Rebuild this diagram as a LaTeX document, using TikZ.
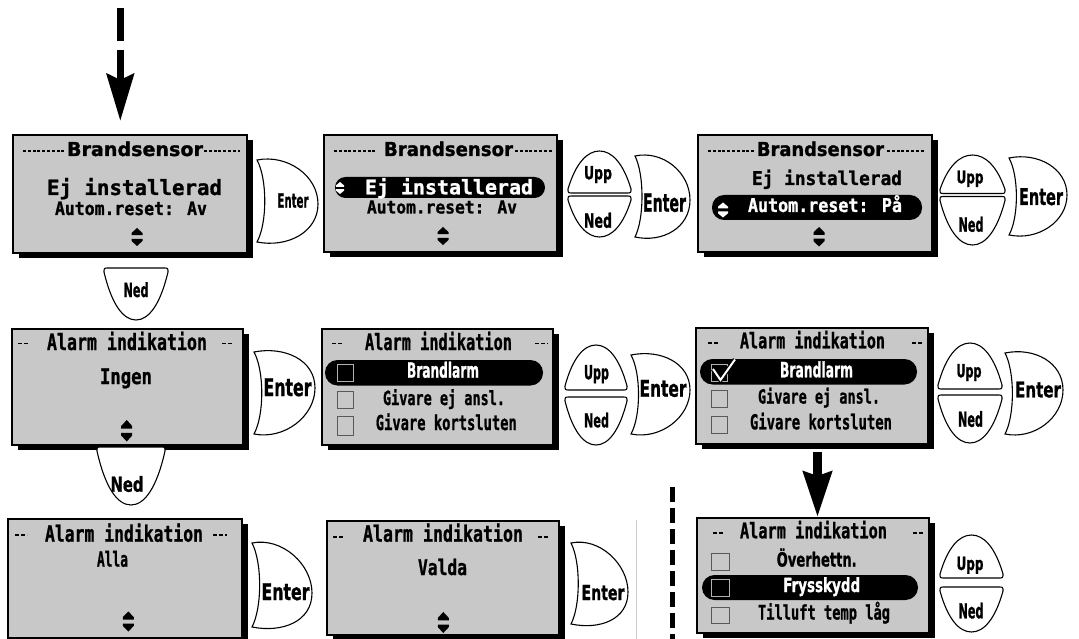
\documentclass[tikz,border=0pt]{standalone}
\usepackage{fontspec}
\usepackage{graphicx}
\usetikzlibrary{arrows.meta,shadows}
\newfontfamily\monof[BoldFeatures={FakeBold=1.2}]{DejaVu Sans Mono}
\newfontfamily\sansf[BoldFeatures={FakeBold=1.2}]{DejaVu Sans}
\definecolor{lcd}{RGB}{200,200,200}
\tikzset{
 screen/.style={draw=black, line width=1.3pt, fill=lcd, inner sep=0pt,
   drop shadow={shadow xshift=6pt, shadow yshift=-5pt, opacity=1, fill=black}},
 btn/.style={draw=black, line width=1.1pt, fill=white},
 txt/.style={inner sep=0pt, outer sep=0pt, anchor=base},
 tdash/.style={line width=1.2pt, dash pattern=on 3pt off 1.8pt},
 sdash/.style={line width=1.6pt, dash pattern=on 4pt off 2pt},
 pill/.style={fill=black, rounded corners=#1},
 cbox/.style={draw=black!65, line width=0.8pt},
 cboxsel/.style={draw=black!30, line width=0.8pt, fill=black},
}
\newcommand\lcdt[7][black]{\node[txt,text=#1] (#2) at (#3,#4) {\resizebox{#5pt}{\height}{\fontsize{#6pt}{#6pt}\selectfont #7}};}
\newcommand\updn[5]{%
 \fill[#5] (#1,#2) -- ({#1+#4},{#2+0.28*(#3-#2)}) -- ({#1+#4},{#2+0.4*(#3-#2)}) -- ({#1-#4},{#2+0.4*(#3-#2)}) -- ({#1-#4},{#2+0.28*(#3-#2)}) -- cycle;
 \fill[#5] (#1,#3) -- ({#1+#4},{#3-0.28*(#3-#2)}) -- ({#1+#4},{#3-0.4*(#3-#2)}) -- ({#1-#4},{#3-0.4*(#3-#2)}) -- ({#1-#4},{#3-0.28*(#3-#2)}) -- cycle;}
\newcommand\enterbtn[5]{%
 \draw[btn] (#1,{#2+3}) .. controls ({#1+0.5*(#3-#1)},{#2-3}) and (#3,{#5-0.32*(#4-#2)}) .. (#3,#5)
  .. controls (#3,{#5+0.32*(#4-#2)}) and ({#1+0.5*(#3-#1)},{#4+3}) .. (#1,{#4-3})
  .. controls ({#1+0.17*(#3-#1)},{#4-0.25*(#4-#2)}) and ({#1+0.17*(#3-#1)},{#2+0.25*(#4-#2)}) .. (#1,{#2+3}) -- cycle;}
\newcommand\uppbtn[4]{%
 \draw[btn] (#1,{#4-4}) .. controls ({#1+0.12*(#3-#1)},{#2+0.3*(#4-#2)}) and ({#1+0.3*(#3-#1)},#2) .. ({(#1+#3)/2},#2)
  .. controls ({#3-0.3*(#3-#1)},#2) and ({#3-0.12*(#3-#1)},{#2+0.3*(#4-#2)}) .. (#3,{#4-4})
  .. controls (#3,#4) .. ({#3-5},#4) -- ({#1+5},#4) .. controls (#1,#4) .. (#1,{#4-4}) -- cycle;}
\newcommand\nedbtn[4]{%
 \draw[btn] (#1,{#2+4}) .. controls ({#1+0.12*(#3-#1)},{#4-0.3*(#4-#2)}) and ({#1+0.3*(#3-#1)},#4) .. ({(#1+#3)/2},#4)
  .. controls ({#3-0.3*(#3-#1)},#4) and ({#3-0.12*(#3-#1)},{#4-0.3*(#4-#2)}) .. (#3,{#2+4})
  .. controls (#3,#2) .. ({#3-5},#2) -- ({#1+5},#2) .. controls (#1,#2) .. (#1,{#2+4}) -- cycle;}
\begin{document}
\begin{tikzpicture}[x=1pt,y=-1pt]
\useasboundingbox (0,0) rectangle (1079,639);
% screens
\node[screen, minimum width=234pt, minimum height=118pt] (s11) at (130,194) {};
\node[screen, minimum width=233pt, minimum height=117pt] (s12) at (440.5,193.5) {};
\node[screen, minimum width=234pt, minimum height=117pt] (s13) at (815,193.5) {};
\node[screen, minimum width=231pt, minimum height=116pt] (s21) at (127.5,387) {};
\node[screen, minimum width=231pt, minimum height=116pt] (s22) at (437.5,387) {};
\node[screen, minimum width=232pt, minimum height=116pt] (s23) at (812,386) {};
\node[screen, minimum width=234pt, minimum height=119pt] (s31) at (125,578.5) {};
\node[screen, minimum width=232pt, minimum height=114pt] (s32) at (443,578) {};
\node[screen, minimum width=232pt, minimum height=115pt] (s33) at (813,575.5) {};
% row 1 col 1
\draw[tdash] (23,151) -- (65,151); \draw[tdash] (204,151) -- (240,151);
\lcdt{t11a}{135}{156}{136}{19.2}{\sansf\bfseries Brandsensor}
\lcdt{t11b}{134.5}{195}{175}{21}{\monof\bfseries Ej installerad}
\lcdt{t11c}{131}{215}{152}{18.5}{\monof\bfseries Autom.reset: Av}
\updn{137}{228}{246}{5.5}{black}
% row 1 col 2
\draw[tdash] (334,151) -- (377,151); \draw[tdash] (515,151) -- (553,151);
\lcdt{t12a}{448.5}{156}{129}{19.2}{\sansf\bfseries Brandsensor}
\fill[pill=10.5pt] (335,177) rectangle (545,198);
\updn{340}{182}{194}{4}{white}
\lcdt[white]{t12b}{449}{194.3}{168}{20}{\monof\bfseries Ej installerad}
\lcdt{t12c}{442}{213.5}{150}{18}{\monof\bfseries Autom.reset: Av}
\updn{443}{227}{245}{5.5}{black}
% row 1 col 3
\draw[tdash] (708,151) -- (754,151); \draw[tdash] (887,151) -- (925,151);
\lcdt{t13a}{820.5}{156}{127}{19.2}{\sansf\bfseries Brandsensor}
\lcdt{t13b}{827}{185}{150}{19}{\monof\bfseries Ej installerad}
\fill[pill=12pt] (712,195) rectangle (922,220);
\updn{723}{202.5}{217.5}{5}{white}
\lcdt[white]{t13c}{825}{212}{154}{19}{\monof\bfseries Autom.reset: På}
\updn{819}{227}{246.5}{5.5}{black}
% row 2 col 1
\draw[sdash] (18,343.5) -- (28,343.5); \draw[sdash] (222,343.5) -- (233,343.5);
\lcdt{t21a}{127}{350}{160}{22.5}{\monof\bfseries Alarm indikation}
\lcdt{t21b}{126}{384}{52}{21.5}{\monof\bfseries Ingen}
\updn{126.7}{420}{441.5}{5.5}{black}
% row 2 col 2
\draw[sdash] (332,343.5) -- (343,343.5); \draw[sdash] (535,343.5) -- (548,343.5);
\lcdt{t22a}{438.5}{350}{147}{22.5}{\monof\bfseries Alarm indikation}
\fill[pill=12.5pt] (325,360) rectangle (543,385.5);
\draw[cboxsel] (337,364) rectangle (353,381);
\lcdt[white]{t22b}{443}{377.7}{72}{21}{\sansf\bfseries Brandlarm}
\draw[cbox] (337,391.7) rectangle (353,408.3);
\lcdt{t22c}{444}{405}{122}{19.5}{\monof\bfseries Givare ej ansl.}
\draw[cbox] (337,416.7) rectangle (353,435);
\lcdt{t22d}{446.3}{430}{141}{20.5}{\monof\bfseries Givare kortsluten}
% row 2 col 3
\draw[sdash] (708,343) -- (718,343); \draw[sdash] (912,343) -- (922,343);
\lcdt{t23a}{812.5}{348.3}{145}{21.5}{\monof\bfseries Alarm indikation}
\fill[pill=12.5pt] (700,359) rectangle (917,384.5);
\draw[cboxsel] (711,364) rectangle (727,381);
\draw[black, line width=4.5pt] (713,369) -- (720.5,380) -- (735,359.5);
\draw[white, line width=2pt] (713,369) -- (720.5,380) -- (735,359.5);
\lcdt[white]{t23b}{816.5}{377.3}{73}{21}{\sansf\bfseries Brandlarm}
\draw[cbox] (711,390) rectangle (727,407);
\lcdt{t23c}{819}{403.5}{122}{19.5}{\monof\bfseries Givare ej ansl.}
\draw[cbox] (711,416.5) rectangle (727,433);
\lcdt{t23d}{821}{429.3}{142}{20.5}{\monof\bfseries Givare kortsluten}
% row 3 col 1
\draw[sdash] (15,535) -- (27,535); \draw[sdash] (213,535) -- (227,535);
\lcdt{t31a}{124}{541.7}{158}{22.5}{\monof\bfseries Alarm indikation}
\lcdt{t31b}{112.5}{566.7}{31}{21}{\monof\bfseries Alla}
\updn{128.3}{611.5}{631.5}{5.5}{black}
% row 3 col 2
\draw[sdash] (333,537) -- (343,537); \draw[sdash] (538,537) -- (549,537);
\lcdt{t32a}{443}{541.7}{160}{22.5}{\monof\bfseries Alarm indikation}
\lcdt{t32b}{442.5}{575}{49}{21.5}{\monof\bfseries Valda}
\updn{443.3}{612}{633}{5.5}{black}
% row 3 col 3
\draw[sdash] (713,533) -- (723,533); \draw[sdash] (913,533) -- (923,533);
\lcdt{t33a}{813.5}{538.3}{147}{21.5}{\monof\bfseries Alarm indikation}
\draw[cbox] (711,553) rectangle (729,570);
\lcdt{t33b}{816.7}{566.5}{80}{19.5}{\sansf\bfseries Överhettn.}
\fill[pill=12.5pt] (702,575) rectangle (918,600);
\draw[cboxsel] (711,579) rectangle (729,596);
\lcdt[white]{t33c}{821.7}{592}{77}{19.5}{\sansf\bfseries Frysskydd}
\draw[cbox] (711,607) rectangle (729,623);
\lcdt{t33d}{824}{619.5}{132}{20}{\monof\bfseries Tilluft temp låg}
% buttons row 1
\enterbtn{257}{157}{318}{245}{204}
\lcdt{e11}{293}{207.7}{31}{19.8}{\sansf\bfseries Enter}
\uppbtn{568}{151}{631}{193}
\lcdt{u12}{598}{179.3}{28}{18.2}{\sansf\bfseries Upp}
\nedbtn{568}{196}{631}{237}
\lcdt{n12}{598}{227.7}{28}{19.8}{\sansf\bfseries Ned}
\enterbtn{635}{153}{690}{240}{200}
\lcdt{e12}{664.5}{211.7}{43}{25}{\sansf\bfseries Enter}
\uppbtn{940}{155}{1005}{193.5}
\lcdt{u13}{970}{183.3}{27}{17.5}{\sansf\bfseries Upp}
\nedbtn{940}{196.5}{1005}{245}
\lcdt{n13}{971}{231.7}{25}{19.8}{\sansf\bfseries Ned}
\enterbtn{1009}{155}{1067}{238}{195}
\lcdt{e13}{1041}{205}{44}{23}{\sansf\bfseries Enter}
% buttons row 2
\nedbtn{104}{268}{168}{320}
\lcdt{n21}{136}{297}{25}{19.5}{\sansf\bfseries Ned}
\enterbtn{254}{349}{315}{437}{388}
\lcdt{e21}{287.5}{396}{48}{24.3}{\sansf\bfseries Enter}
\uppbtn{565}{345}{627}{390}
\lcdt{u22}{596.5}{379.3}{25}{19.6}{\sansf\bfseries Upp}
\nedbtn{565}{397}{627}{445}
\lcdt{n22}{596.5}{427.3}{25}{19.2}{\sansf\bfseries Ned}
\enterbtn{631}{352}{690}{437}{390}
\lcdt{e22}{663}{396.7}{47}{23}{\sansf\bfseries Enter}
\uppbtn{938}{343}{1002}{389}
\lcdt{u23}{969}{377.3}{25}{18.2}{\sansf\bfseries Upp}
\nedbtn{938}{395}{1002}{443}
\lcdt{n23}{970.5}{426.7}{25}{20.6}{\sansf\bfseries Ned}
\enterbtn{1005}{350}{1063}{437}{390}
\lcdt{e23}{1038}{397.3}{46}{21.4}{\sansf\bfseries Enter}
% buttons row 3
\nedbtn{97}{447}{165}{505}
\lcdt{n31}{127}{491.7}{33}{20.6}{\sansf\bfseries Ned}
\enterbtn{252}{540}{312}{630}{593}
\lcdt{e31}{285.5}{600}{48}{22.9}{\sansf\bfseries Enter}
\enterbtn{571}{540}{628}{627}{592}
\lcdt{e32}{603}{600}{43}{20.6}{\sansf\bfseries Enter}
\uppbtn{940}{535}{1003}{578}
\lcdt{u33}{970}{570}{27}{18.2}{\sansf\bfseries Upp}
\nedbtn{940}{587}{1003}{632}
\lcdt{n33}{971}{618.3}{25}{20.6}{\sansf\bfseries Ned}
% arrows and lines
\coordinate (a0) at (120.3,8); \coordinate (a1) at (120.3,121);
\draw[line width=7.5pt, dash pattern=on 33pt off 9pt on 300pt,
  -{Stealth[length=47pt,width=27pt,inset=6pt]}] (a0) -- (a1);
\coordinate (b0) at (817.5,452); \coordinate (b1) at (817.5,517);
\draw[line width=9pt, -{Stealth[length=45pt,width=28pt,inset=4pt]}] (b0) -- (b1);
\coordinate (c0) at (672.5,487); \coordinate (c1) at (672.5,639);
\draw[line width=5pt, dash pattern=on 14.5pt off 6.5pt] (c0) -- (c1);
\coordinate (g0) at (636,520); \coordinate (g1) at (636,639);
\draw[black!20, line width=0.8pt] (g0) -- (g1);
\end{tikzpicture}
\end{document}
